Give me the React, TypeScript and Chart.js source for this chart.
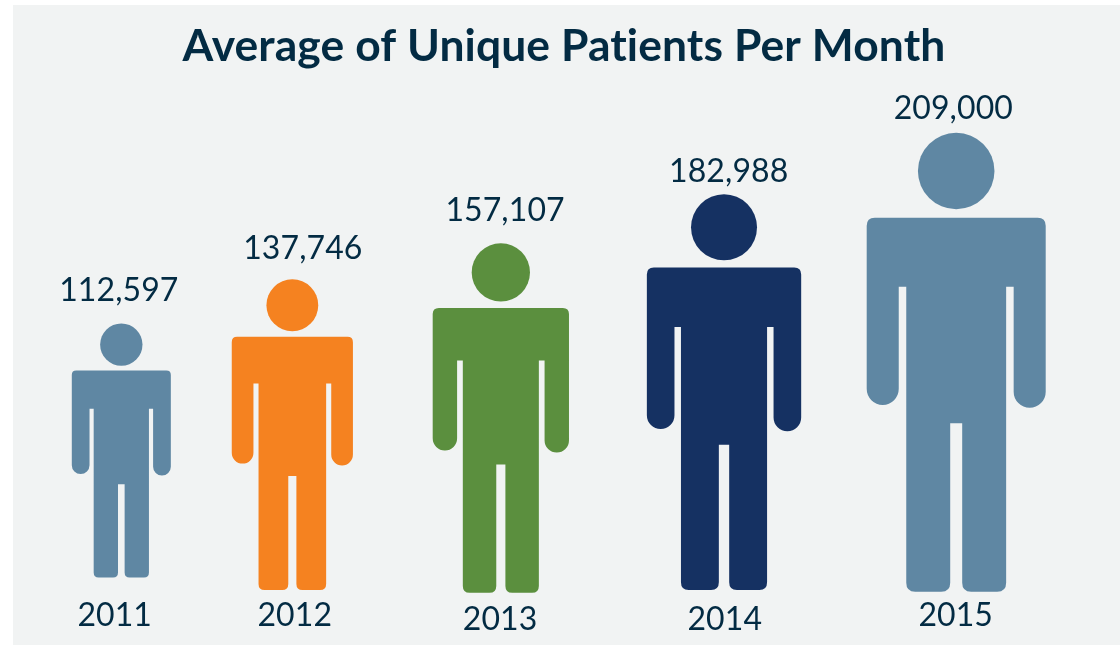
import React, { useEffect, useRef } from "react";
import { Chart, registerables } from "chart.js";

Chart.register(...registerables);

const TITLE = "Average of Unique Patients Per Month";
const years = ["2011", "2012", "2013", "2014", "2015"];
const patients = [112597, 137746, 157107, 182988, 209000];
// Figure extents, in y-axis units.
const figureTops = [122000, 142030, 158400, 180630, 208600];
const figureFeet = [6700, 970, -250, 970, 200];
// Figure centres, in x-axis units.
const figureSlots = [10.19, 25.57, 44.32, 64.39, 85.27];
const figureColors = ["#5f87a3", "#f58220", "#5b8f3e", "#153162", "#5f87a3"];
// Small hand offsets of the labels, as in the picture.
const valueLabelShift = [-2.5, 10.5, 4.2, 4.7, -2.9];
const valueLabelGap = [22.6, 20, 22.3, 12.6, 13.4];
const yearLabelShift = [-6.6, 2.4, -0.8, 0.7, -0.5];
const yearLabelGap = [48.7, 36, 37.3, 40, 34.3];

const TEXT = "#032b43";
const PANEL = "#f1f3f3";
const FONT = "Lato";

function roundedFoot(ctx: CanvasRenderingContext2D, x0: number, x1: number, yBottom: number, r: number) {
  ctx.lineTo(x1, yBottom - r);
  ctx.quadraticCurveTo(x1, yBottom, x1 - r, yBottom);
  ctx.lineTo(x0 + r, yBottom);
  ctx.quadraticCurveTo(x0, yBottom, x0, yBottom - r);
}

function drawFigure(ctx: CanvasRenderingContext2D, cx: number, top: number, bottom: number, color: string) {
  const h = bottom - top;
  const w = h * 0.39;
  const Y = (f: number) => top + f * h;
  const X = (f: number) => cx + f * w;
  const bodyR = 0.045 * w;
  const footR = 0.05 * w;
  const armHalf = (0.5 - 0.321) / 2; // half arm width, in widths
  ctx.save();
  ctx.fillStyle = color;
  ctx.beginPath();
  ctx.arc(cx, top + 0.0834 * h, 0.0834 * h, 0, Math.PI * 2);
  ctx.fill();
  ctx.beginPath();
  ctx.moveTo(X(-0.5) + bodyR, Y(0.185));
  ctx.lineTo(X(0.5) - bodyR, Y(0.185));
  ctx.quadraticCurveTo(X(0.5), Y(0.185), X(0.5), Y(0.185) + bodyR);
  // right arm
  ctx.lineTo(X(0.5), Y(0.599) - armHalf * w);
  ctx.arc(X(0.5 - armHalf), Y(0.599) - armHalf * w, armHalf * w, 0, Math.PI);
  ctx.lineTo(X(0.321), Y(0.3355));
  ctx.lineTo(X(0.279), Y(0.3355));
  // right leg
  ctx.lineTo(X(0.279), Y(1) - footR);
  ctx.quadraticCurveTo(X(0.279), Y(1), X(0.279) - footR, Y(1));
  ctx.lineTo(X(0.0335) + footR, Y(1));
  ctx.quadraticCurveTo(X(0.0335), Y(1), X(0.0335), Y(1) - footR);
  ctx.lineTo(X(0.0335), Y(0.633));
  ctx.lineTo(X(-0.0335), Y(0.633));
  // left leg
  roundedFoot(ctx, X(-0.279), X(-0.0335), Y(1), footR);
  ctx.lineTo(X(-0.279), Y(0.3355));
  ctx.lineTo(X(-0.321), Y(0.3355));
  // left arm
  ctx.lineTo(X(-0.321), Y(0.593) - armHalf * w);
  ctx.arc(X(-0.5 + armHalf), Y(0.593) - armHalf * w, armHalf * w, 0, Math.PI);
  ctx.lineTo(X(-0.5), Y(0.185) + bodyR);
  ctx.quadraticCurveTo(X(-0.5), Y(0.185), X(-0.5) + bodyR, Y(0.185));
  ctx.closePath();
  ctx.fill();
  ctx.restore();
}

const panelPlugin = {
  id: "panel",
  beforeDraw(chart: any) {
    const { ctx } = chart;
    ctx.save();
    ctx.fillStyle = PANEL;
    ctx.fillRect(13, 5, chart.width - 13, chart.height - 5);
    ctx.restore();
    // A tiny letter spacing turns off Lato's "ti" ligature for all text on the canvas.
    ctx.letterSpacing = "0.1px";
  },
};

const figuresPlugin = {
  id: "figures",
  beforeDatasetDraw(chart: any, args: any) {
    const { ctx } = chart;
    args.meta.data.forEach((bar: any) => {
      drawFigure(ctx, bar.x, bar.y, bar.base, bar.options.backgroundColor);
    });
    return false;
  },
  afterDatasetsDraw(chart: any) {
    const { ctx } = chart;
    const bars = chart.getDatasetMeta(0).data;
    ctx.save();
    ctx.fillStyle = TEXT;
    ctx.font = `32px ${FONT}`;
    ctx.textAlign = "center";
    ctx.textBaseline = "alphabetic";
    bars.forEach((bar: any, i: number) => {
      ctx.fillText(patients[i].toLocaleString("en-US"), bar.x + valueLabelShift[i], bar.y - valueLabelGap[i]);
      ctx.fillText(years[i], bar.x + yearLabelShift[i], bar.base + yearLabelGap[i]);
    });
    ctx.restore();
  },
};

export default function App() {
  const ref = useRef<HTMLCanvasElement>(null);
  useEffect(() => {
    document.body.style.background = "#ffffff";
    const chart = new Chart(ref.current as HTMLCanvasElement, {
      type: "bar",
      data: {
        datasets: [
          {
            label: "Average of Unique Patients Per Month",
            data: years.map((_, i) => ({ x: figureSlots[i], y: [figureFeet[i], figureTops[i]] })) as any,
            backgroundColor: figureColors,
            barThickness: 100,
          },
        ],
      },
      options: {
        animation: false,
        responsive: false,
        layout: { padding: { left: 8 } },
        scales: {
          x: { type: "linear", display: false, min: 0, max: 100, offset: false },
          y: { type: "linear", display: false, min: -24000, max: 230000 },
        },
        plugins: {
          legend: { display: false },
          tooltip: { enabled: false },
          title: {
            display: true,
            text: TITLE,
            color: TEXT,
            font: { family: FONT, size: 44.4, weight: "bold" },
            lineHeight: 1.2,
            padding: { top: 20, bottom: 12.3 },
          },
        },
      },
      plugins: [panelPlugin, figuresPlugin],
    });
    return () => chart.destroy();
  }, []);
  return <canvas ref={ref} width={1120} height={645} style={{ position: "fixed", left: 0, top: 0, display: "block" }} />;
}
